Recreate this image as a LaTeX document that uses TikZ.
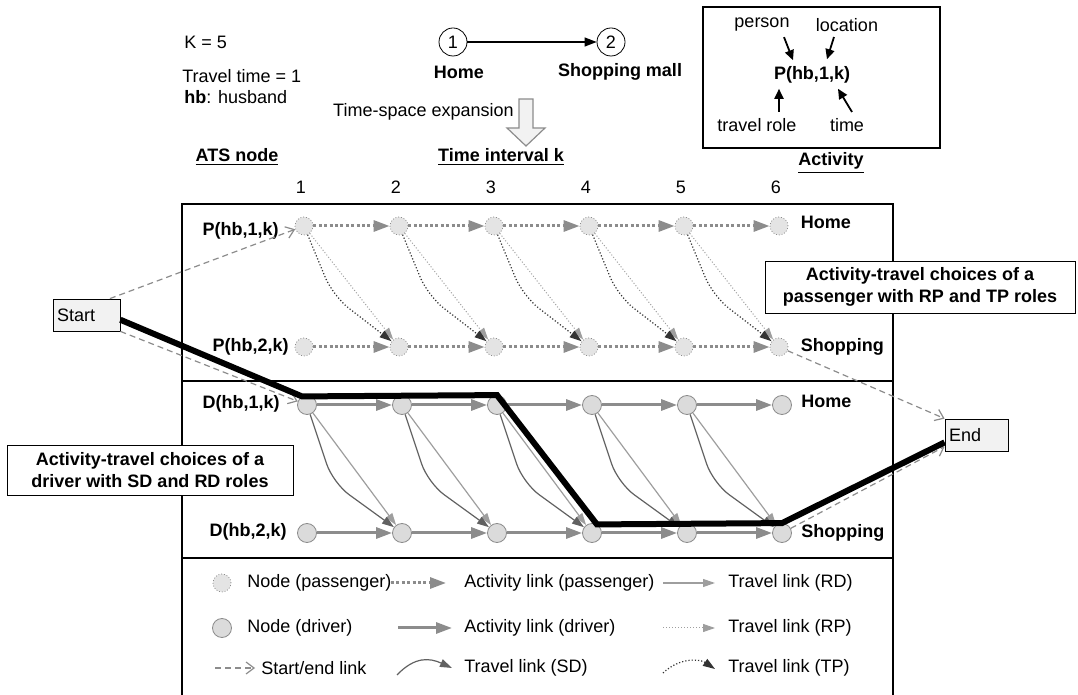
\documentclass[tikz,border=0pt]{standalone}
\usepackage{fontspec}
\setmainfont{Liberation Sans}
\usetikzlibrary{arrows.meta, positioning, calc}
\definecolor{LinkGray}{rgb}{0.55, 0.55, 0.55}
\definecolor{LightLink}{rgb}{0.62, 0.62, 0.62}
\definecolor{DarkLink}{rgb}{0.38, 0.38, 0.38}
\definecolor{NodeFill}{rgb}{0.86, 0.86, 0.86}
\definecolor{BoxFill}{rgb}{0.95, 0.95, 0.95}

\begin{document}
\begin{tikzpicture}[
    x=0.5pt, y=-0.5pt,
    font=\fontsize{9}{11}\selectfont,
    lbl/.style={font=\fontsize{9}{11}\selectfont\bfseries, inner sep=1pt},
    txt/.style={inner sep=1pt, anchor=west},
    pnode/.style={circle, draw=LinkGray, densely dotted, fill=NodeFill!75!white, minimum size=9pt, inner sep=0pt},
    dnode/.style={circle, draw=LinkGray, fill=NodeFill, minimum size=9.5pt, inner sep=0pt},
    pact/.style={-{Triangle[length=8pt,width=5.5pt]}, LinkGray, line width=1.5pt, dash pattern=on 1.5pt off 1.2pt},
    dact/.style={-{Triangle[length=8pt,width=5.5pt]}, LinkGray, line width=1.5pt},
    rd/.style={-{Triangle[length=6pt,width=4pt]}, LightLink, line width=0.6pt},
    rp/.style={-{Triangle[length=6pt,width=4pt]}, LightLink, line width=0.5pt, densely dotted},
    sd/.style={-{Triangle[length=6pt,width=4pt]}, DarkLink, line width=0.6pt, rounded corners=10pt},
    tp/.style={-{Triangle[length=6pt,width=4pt]}, black!80, line width=0.6pt, densely dotted, rounded corners=10pt},
    se/.style={-{Straight Barb[length=4pt,width=6pt]}, LinkGray, line width=0.6pt, dash pattern=on 3pt off 2pt},
    keyarr/.style={-{Triangle[length=5pt,width=4.5pt]}, line width=0.9pt},
    route/.style={line width=3pt, black},
    endbox/.style={draw, fill=BoxFill, align=left, inner xsep=2pt, minimum height=16pt},
    choice/.style={draw, fill=white, align=center, font=\fontsize{9}{11}\selectfont\bfseries, minimum height=25pt},
]
\useasboundingbox (0,0) rectangle (1078,695);

% network and expansion
\node[txt] (kk) at (182,42) {K = 5};
\node[txt] (tt) at (180,76) {Travel time = 1};
\node[txt] (hb) at (182,97) {\textbf{hb}: husband};
\node[circle, draw, fill=white, minimum size=14pt, inner sep=0pt] (c1) at (453,42) {1};
\node[circle, draw, fill=white, minimum size=14pt, inner sep=0pt] (c2) at (611,42) {2};
\draw[-{Triangle[length=6pt,width=4.5pt]}, line width=0.6pt] (c1) -- (c2);
\node[lbl] (homelbl) at (459,72) {Home};
\node[lbl] (malllbl) at (620,72) {Shopping mall};
\node[txt, anchor=east] (tse) at (516,112) {Time-space expansion};
\draw[draw=LinkGray, fill=BoxFill, line width=0.6pt]
    (519,99) -- (533,99) -- (533,128) -- (545,128) -- (526,146) -- (507,128) -- (519,128) -- cycle;

% activity key
\node[draw, line width=0.8pt, minimum width=118.5pt, minimum height=70.5pt, inner sep=0pt] (actbox) at (821.5,77.5) {};
\node[lbl] (act) at (831,163) {\underline{Activity}};
\node[inner sep=1pt] (person) at (762,25) {person};
\node[inner sep=1pt] (location) at (847,25) {location};
\node[lbl] (key) at (812,75) {P(hb,1,k)};
\node[inner sep=1pt] (role) at (757,125) {travel role};
\node[inner sep=1pt] (time) at (847,125) {time};
\draw[keyarr] ($(person.south)+(22,3)$) -- ($(key.north)+(-19,-4)$);
\draw[keyarr] ($(location.south)+(-13,3)$) -- ($(key.north)+(15,-5)$);
\draw[keyarr] ($(role.north)+(22,-4)$) -- ($(key.south)+(-33,3)$);
\draw[keyarr] ($(time.north)+(5,-4)$) -- ($(key.south)+(26,3)$);

% headers
\node[lbl] (atshead) at (237,157) {\underline{ATS node}};
\node[lbl] (timehead) at (501,157) {\underline{Time interval k}};

% frame
\draw[line width=0.7pt] (182,697) -- (182,204) -- (893,204) -- (893,697);
\draw[line width=0.7pt] (182,381) -- (893,381) (182,558) -- (893,558);

% ATS nodes
\foreach \k [evaluate=\k as \px using 304+95*(\k-1), evaluate=\k as \dx using 307+95*(\k-1)] in {1,...,6} {
  \node (num\k) at (\px-3,187) {\k};
  \node[pnode] (ph\k) at (\px,226) {};
  \node[pnode] (ps\k) at (\px,347) {};
  \node[dnode] (dh\k) at (\dx,405) {};
  \node[dnode] (ds\k) at (\dx,533) {};
}
\node[lbl, anchor=east] (lph) at (281,231) {P(hb,1,k)};
\node[lbl, anchor=east] (lps) at (291,347) {P(hb,2,k)};
\node[lbl, anchor=east] (ldh) at (282,404) {D(hb,1,k)};
\node[lbl, anchor=east] (lds) at (289,532) {D(hb,2,k)};
\node[lbl, right=5pt of ph6, yshift=2pt] (rph) {Home};
\node[lbl, right=5pt of ps6] (rps) {Shopping};
\node[lbl, right=3.5pt of dh6, yshift=2pt] (rdh) {Home};
\node[lbl, right=3.5pt of ds6] (rds) {Shopping};

% activity and travel links
\foreach \k [count=\n from 2] in {1,...,5} {
  \draw[pact] (ph\k) -- (ph\n);
  \draw[pact] (ps\k) -- (ps\n);
  \draw[dact] (dh\k) -- (dh\n);
  \draw[dact] (ds\k) -- (ds\n);
  \draw[rp] (ph\k) -- (ps\n);
  \draw[tp] (ph\k) -- ($(ph\k)+(29,70)$) -- (ps\n);
  \draw[rd] (dh\k) -- (ds\n);
  \draw[sd] (dh\k) -- ($(dh\k)+(26,78)$) -- (ds\n);
}

% start and end
\node[endbox, text width=29.5pt] (start) at (86.5,315) {Start};
\node[endbox, text width=27.5pt] (end) at (976.5,435) {End};
\draw[se] (start.35) -- (ph1);
\draw[se] (start.south east) -- (dh1);
\draw[se] (ps6) -- (end.north west);
\draw[se] (ds6) -- (end.200);
\draw[route] (start.-8) -- (dh1.120) -- (dh3.north) -- (ds4.60) -- (ds6.north) -- (end.193);

% choice boxes
\node[choice, minimum width=155pt] (pchoice) at (920,287) {Activity-travel choices of a\\passenger with RP and TP roles};
\node[choice, minimum width=143pt] (dchoice) at (150,470) {Activity-travel choices of a\\driver with SD and RD roles};

% legend
\path (391,583) coordinate (lg1a) (446,583) coordinate (lg1b)
      (663,583) coordinate (lg2a) (715,583) coordinate (lg2b)
      (398,628) coordinate (lg3a) (452,628) coordinate (lg3b)
      (663,628) coordinate (lg4a) (715,628) coordinate (lg4b)
      (215,668) coordinate (lg5a) (255,668) coordinate (lg5b)
      (397,675) coordinate (lg6a) (452,668) coordinate (lg6b)
      (663,673) coordinate (lg7a) (715,669) coordinate (lg7b);
\node[pnode] (lgp) at (222,583) {};
\node[txt] (lgptxt) at (245,583) {Node (passenger)};
\draw[pact] (lg1a) -- (lg1b);
\node[txt] (lgpact) at (462,583) {Activity link (passenger)};
\draw[rd] (lg2a) -- (lg2b);
\node[txt] (lgrd) at (726,583) {Travel link (RD)};
\node[dnode] (lgd) at (222,628) {};
\node[txt] (lgdtxt) at (245,628) {Node (driver)};
\draw[dact] (lg3a) -- (lg3b);
\node[txt] (lgdact) at (462,628) {Activity link (driver)};
\draw[rp] (lg4a) -- (lg4b);
\node[txt] (lgrp) at (726,628) {Travel link (RP)};
\draw[se] (lg5a) -- (lg5b);
\node[txt] (lgse) at (259,668) {Start/end link};
\draw[sd] (lg6a) .. controls (415,656) and (430,658) .. (lg6b);
\node[txt] (lgsd) at (462,668) {Travel link (SD)};
\draw[tp] (lg7a) .. controls (680,657) and (700,659) .. (lg7b);
\node[txt] (lgtp) at (726,668) {Travel link (TP)};

\end{tikzpicture}
\end{document}
